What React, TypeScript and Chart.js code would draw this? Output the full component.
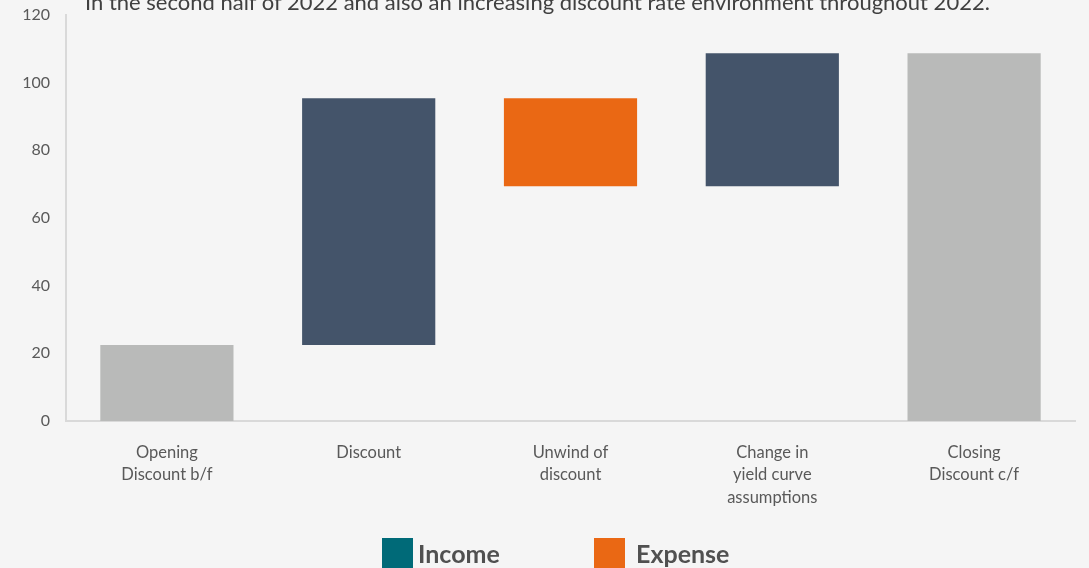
import React, { useEffect, useRef } from "react";
import { Chart, registerables } from "chart.js";

Chart.register(...registerables);

const categories: string[][] = [
  ["Opening", "Discount b/f"],
  ["Discount"],
  ["Unwind of", "discount"],
  ["Change in", "yield curve", "assumptions"],
  ["Closing", "Discount c/f"],
];
const barStarts: number[] = [0, 22.5, 69.4, 69.4, 0];
const barEnds: number[] = [22.5, 95.4, 95.4, 108.7, 108.7];
const barKinds: string[] = ["total", "income", "expense", "income", "total"];
const yTicks: number[] = [0, 20, 40, 60, 80, 100, 120];
const titleText =
  "In the second half of 2022 and also an increasing discount rate environment throughout 2022.";
const legendItems: string[] = ["Income", "Expense"];

const COLORS: Record<string, string> = {
  total: "#b9bab9",
  income: "#44546a",
  expense: "#ea6814",
};
const FONT = "Lato, 'Open Sans', sans-serif";

export default function App() {
  const ref = useRef<HTMLCanvasElement | null>(null);

  useEffect(() => {
    if (!ref.current) return;
    const chart = new Chart(ref.current, {
      type: "bar",
      data: {
        labels: categories,
        datasets: [
          {
            data: barStarts.map((s, i) => [s, barEnds[i]] as [number, number]),
            backgroundColor: barKinds.map((k) => COLORS[k]),
            borderWidth: 0,
            barPercentage: 0.66,
            categoryPercentage: 1,
          },
        ],
      },
      options: {
        responsive: false,
        animation: false,
        layout: { padding: { top: 15, right: 14, left: 0, bottom: 0 } },
        plugins: { legend: { display: false }, tooltip: { enabled: false }, title: { display: false } },
        scales: {
          x: {
            grid: { display: false, drawTicks: false },
            border: { display: true, color: "#d9d9d9", width: 2 },
            ticks: {
              color: "#595959",
              font: { family: FONT, size: 16.5, lineHeight: 1.38 },
              padding: 20,
              maxRotation: 0,
              autoSkip: false,
            },
            afterFit: (s: any) => {
              s.height = 147;
              s.paddingLeft = 0;
              s.paddingRight = 0;
            },
          },
          y: {
            min: 0,
            max: 120,
            afterBuildTicks: (s: any) => {
              s.ticks = yTicks.map((v) => ({ value: v }));
            },
            grid: { display: false, drawTicks: false },
            border: { display: true, color: "#d9d9d9", width: 2 },
            ticks: {
              color: "#595959",
              font: { family: FONT, size: 16 },
              padding: 16,
            },
            afterFit: (s: any) => {
              s.width = 66;
              s.paddingTop = 0;
              s.paddingBottom = 0;
            },
          },
        },
      },
    });
    return () => chart.destroy();
  }, []);

  return (
    <div
      style={{
        position: "fixed",
        left: 0,
        top: 0,
        width: 1089,
        height: 568,
        overflow: "hidden",
        background: "#f5f5f5",
        fontFamily: FONT,
      }}
    >
      <canvas ref={ref} width={1089} height={568} style={{ position: "absolute", left: 0, top: 0 }} />
      <div
        style={{
          position: "absolute",
          left: 85,
          top: -9,
          fontSize: 22,
          lineHeight: "22px",
          color: "#404040",
          whiteSpace: "nowrap",
        }}
      >
        {titleText}
      </div>
      {legendItems.map((name, i) => (
        <div key={name}>
          <div
            style={{
              position: "absolute",
              left: i === 0 ? 382 : 594,
              top: 538,
              width: 31,
              height: 31,
              background: i === 0 ? "#006a78" : "#ea6814",
            }}
          />
          <div
            style={{
              position: "absolute",
              left: i === 0 ? 418 : 636,
              top: 538,
              fontSize: 25,
              lineHeight: "30px",
              fontWeight: 700,
              color: "#505050",
              whiteSpace: "nowrap",
            }}
          >
            {name}
          </div>
        </div>
      ))}
    </div>
  );
}
